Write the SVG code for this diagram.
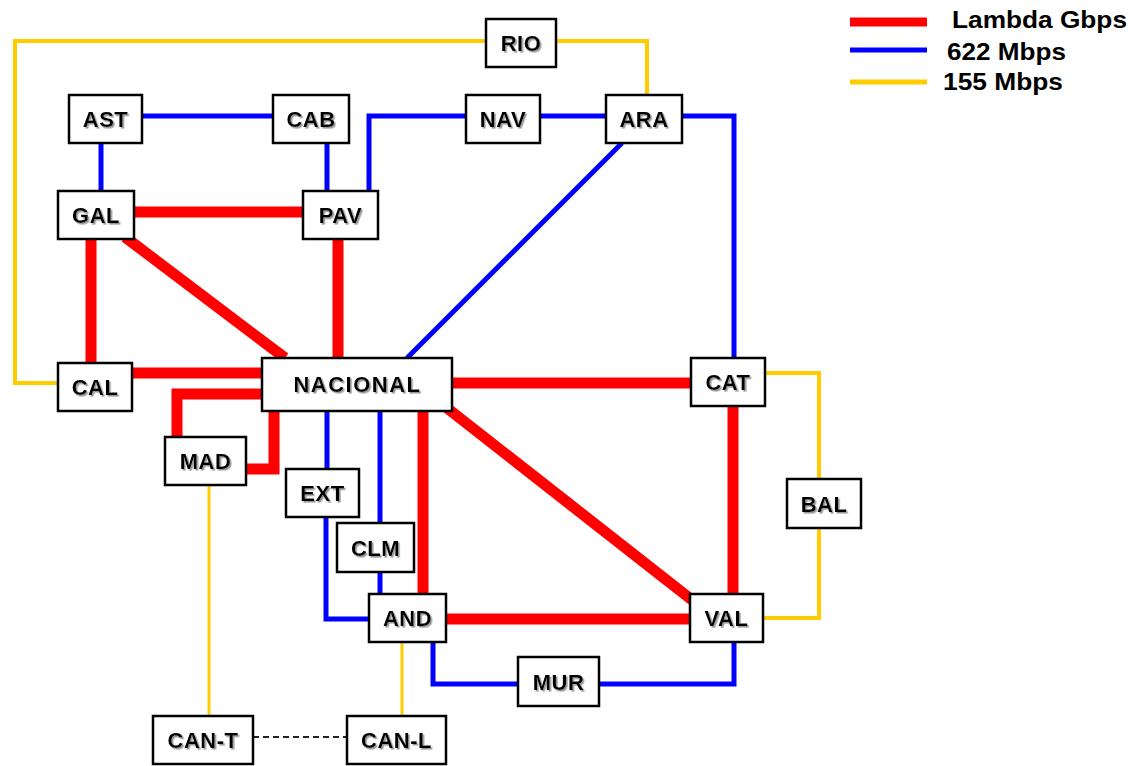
<svg xmlns="http://www.w3.org/2000/svg" width="1130" height="766" viewBox="0 0 1130 766">
<defs>
<filter id="sh" x="-10%" y="-10%" width="130%" height="140%">
<feDropShadow dx="1.6" dy="1.6" stdDeviation="0.2" flood-color="#9a9a9a" flood-opacity="1"/>
</filter>
<style>
.box{fill:#fff;stroke:#000;stroke-width:2.5}
.lbl{font-family:"Liberation Sans",Arial,sans-serif;font-weight:bold;font-size:22px;letter-spacing:0.5px;text-anchor:middle;fill:#000;filter:url(#sh)}
.leg{font-family:"Liberation Sans",Arial,sans-serif;font-weight:bold;font-size:24px;fill:#000}
.r{fill:none;stroke:#ff0000;stroke-width:11;stroke-linejoin:miter}
.b{fill:none;stroke:#0000ff;stroke-width:5;stroke-linejoin:miter}
.y{fill:none;stroke:#ffcc00;stroke-width:4;stroke-linejoin:miter}
.y3{fill:none;stroke:#ffcc00;stroke-width:3}
.d{fill:none;stroke:#222;stroke-width:2;stroke-dasharray:6,4}
</style>
</defs>
<rect width="1130" height="766" fill="#fff"/>
<g id="connectors">
<polyline class="y" points="486,41 15,41 15,383 58,383"/>
<polyline class="y" points="556,41 647,41 647,95"/>
<polyline class="y" points="765,373 819,373 819,479"/>
<polyline class="y" points="819,528 819,618 763,618"/>
<line class="y3" x1="209" y1="485" x2="209" y2="716"/>
<line class="y3" x1="402" y1="642" x2="402" y2="716"/>
<line class="b" x1="142" y1="116" x2="273" y2="116"/>
<line class="b" x1="101" y1="143" x2="101" y2="191"/>
<line class="b" x1="327" y1="143" x2="327" y2="191"/>
<polyline class="b" points="369,191 369,116 466,116"/>
<line class="b" x1="540" y1="116" x2="606" y2="116"/>
<polyline class="b" points="682,116 734,116 734,358"/>
<line class="b" x1="622" y1="143" x2="407" y2="358"/>
<line class="b" x1="327" y1="411" x2="327" y2="469"/>
<polyline class="b" points="326,517 326,619 369,619"/>
<line class="b" x1="380" y1="411" x2="380" y2="523"/>
<line class="b" x1="380" y1="572" x2="380" y2="594"/>
<polyline class="b" points="433,642 433,684 518,684"/>
<polyline class="b" points="599,684 734,684 734,642"/>
<line class="r" x1="134" y1="212" x2="303" y2="212"/>
<line class="r" x1="91" y1="239" x2="91" y2="363"/>
<line class="r" x1="125" y1="237" x2="285" y2="358"/>
<line class="r" x1="338" y1="239" x2="338" y2="358"/>
<line class="r" x1="132" y1="373" x2="262" y2="373"/>
<polyline class="r" points="262,394 177,394 177,437"/>
<polyline class="r" points="274,411 274,469 246,469"/>
<line class="r" x1="452" y1="383" x2="691" y2="383"/>
<line class="r" x1="423" y1="411" x2="423" y2="594"/>
<line class="r" x1="447" y1="408" x2="692" y2="600"/>
<line class="r" x1="446" y1="619" x2="690" y2="619"/>
<line class="r" x1="733" y1="406" x2="733" y2="594"/>
<line class="d" x1="253" y1="737" x2="347" y2="737"/>
</g>
<g id="legend">
<line x1="850" y1="22" x2="927" y2="22" stroke="#ff0000" stroke-width="9"/>
<line x1="850" y1="50" x2="927" y2="50" stroke="#0000ff" stroke-width="5"/>
<line x1="850" y1="82" x2="927" y2="82" stroke="#ffcc00" stroke-width="5"/>
<text class="leg" x="952" y="28" textLength="175" lengthAdjust="spacingAndGlyphs">Lambda Gbps</text>
<text class="leg" x="947" y="60" textLength="119" lengthAdjust="spacingAndGlyphs">622 Mbps</text>
<text class="leg" x="943" y="90" textLength="120" lengthAdjust="spacingAndGlyphs">155 Mbps</text>
</g>
<g id="RIO"><rect class="box" x="486" y="19" width="70" height="48"/><text class="lbl" x="521" y="51">RIO</text></g>
<g id="AST"><rect class="box" x="69" y="95" width="73" height="48"/><text class="lbl" x="105.5" y="127">AST</text></g>
<g id="CAB"><rect class="box" x="273" y="95" width="76" height="48"/><text class="lbl" x="311" y="127">CAB</text></g>
<g id="NAV"><rect class="box" x="466" y="95" width="74" height="48"/><text class="lbl" x="503" y="127">NAV</text></g>
<g id="ARA"><rect class="box" x="606" y="95" width="76" height="48"/><text class="lbl" x="644" y="127">ARA</text></g>
<g id="GAL"><rect class="box" x="58" y="191" width="76" height="48"/><text class="lbl" x="96" y="223">GAL</text></g>
<g id="PAV"><rect class="box" x="303" y="191" width="75" height="48"/><text class="lbl" x="340.5" y="223">PAV</text></g>
<g id="CAL"><rect class="box" x="58" y="363" width="74" height="48"/><text class="lbl" x="95" y="395">CAL</text></g>
<g id="NACIONAL"><rect class="box" x="262" y="358" width="190" height="53"/><text class="lbl" x="357" y="392" textLength="127" lengthAdjust="spacing">NACIONAL</text></g>
<g id="CAT"><rect class="box" x="691" y="358" width="74" height="48"/><text class="lbl" x="728" y="390">CAT</text></g>
<g id="MAD"><rect class="box" x="165" y="437" width="81" height="48"/><text class="lbl" x="205.5" y="469">MAD</text></g>
<g id="EXT"><rect class="box" x="286" y="469" width="73" height="48"/><text class="lbl" x="322.5" y="501">EXT</text></g>
<g id="BAL"><rect class="box" x="787" y="479" width="74" height="49"/><text class="lbl" x="824" y="511.5">BAL</text></g>
<g id="CLM"><rect class="box" x="337" y="523" width="77" height="49"/><text class="lbl" x="375.5" y="555.5">CLM</text></g>
<g id="AND"><rect class="box" x="369" y="594" width="77" height="48"/><text class="lbl" x="407.5" y="626">AND</text></g>
<g id="VAL"><rect class="box" x="690" y="594" width="73" height="48"/><text class="lbl" x="726.5" y="626">VAL</text></g>
<g id="MUR"><rect class="box" x="518" y="657" width="81" height="49"/><text class="lbl" x="558.5" y="689.5">MUR</text></g>
<g id="CAN-T"><rect class="box" x="153" y="716" width="100" height="48"/><text class="lbl" x="203" y="748">CAN-T</text></g>
<g id="CAN-L"><rect class="box" x="347" y="716" width="99" height="48"/><text class="lbl" x="396.5" y="748">CAN-L</text></g>
</svg>
